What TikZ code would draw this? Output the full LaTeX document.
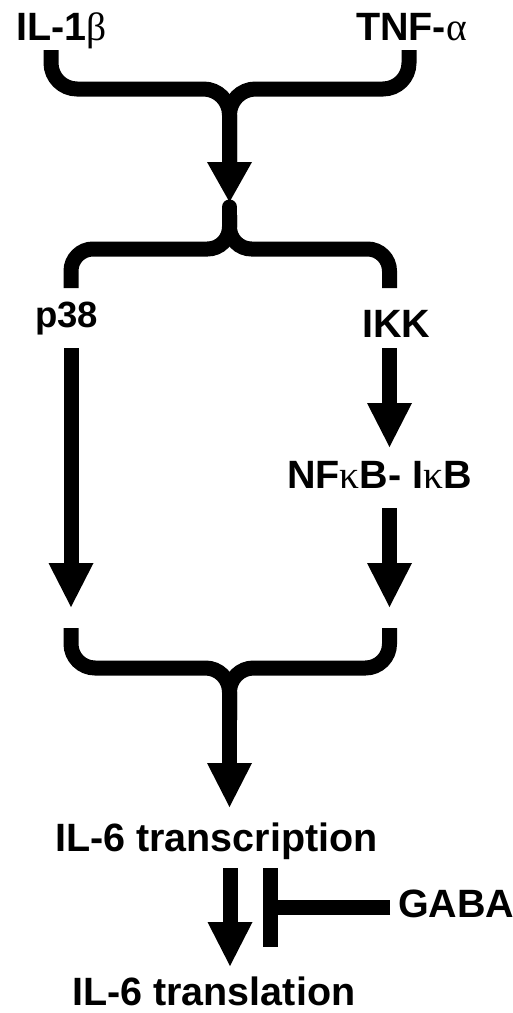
\documentclass[tikz,border=0pt]{standalone}
\usepackage{fontspec}
\setmainfont{Liberation Sans}
\newfontfamily\grk{Liberation Serif}
\usetikzlibrary{arrows.meta}
\begin{document}
\begin{tikzpicture}[x=1pt,y=-1pt,
  lbl/.style={font=\fontsize{39.5}{40}\selectfont\bfseries, inner sep=0pt, anchor=base west},
  ln/.style={line width=15pt, line cap=butt},
  bracket/.style={ln, rounded corners=26pt},
  arr/.style={line width=15pt, -{Triangle[width=45pt,length=44pt,line width=0pt]}},
  arrshort/.style={line width=15pt, -{Triangle[width=45pt,length=40pt,line width=0pt]}}]
\useasboundingbox (0,0) rectangle (513,1013);
% labels
\node[lbl] (il1b) at (16,40) {IL-1{\grk\mdseries β}};
\node[lbl, anchor=base east] (tnfa) at (467,40) {TNF-{\grk\mdseries α}};
\node[lbl, font=\fontsize{36.5}{37}\selectfont\bfseries] (p38) at (35,327) {p38};
\node[lbl] (ikk) at (362,337) {IKK};
\node[lbl] (nfkb) at (287,488) {NF{\grk\mdseries κ}B- I{\grk\mdseries κ}B};
\node[lbl] (il6tc) at (55,851) {IL-6 transcription};
\node[lbl] (il6tl) at (72,1005) {IL-6 translation};
\node[lbl] (gaba) at (398,917) {GABA};
% junction coordinates
\coordinate (j1) at (229.5,89);
\coordinate (t1) at (229.5,202);
\coordinate (j2) at (229.5,249);
\coordinate (m2l) at (71,288);
\coordinate (m2r) at (389.5,288);
\coordinate (a1) at (71,607);
\coordinate (a2) at (389.5,607);
\coordinate (b3l) at (71,628);
\coordinate (b3r) at (389.5,628);
\coordinate (j3) at (229.5,668);
\coordinate (bar) at (270,907);
% top bracket
\draw[bracket] (51,50) |- (j1) -- (229.5,170);
\draw[bracket] (409,50) |- (j1) -- (229.5,170);
\draw[arrshort] (229.5,150) -- (t1);
% middle bracket
\draw[ln, line cap=round] (229.5,207) -- (229.5,230);
\draw[bracket, rounded corners=22pt] (229.5,215) -- (j2) -| (m2l);
\draw[bracket, rounded corners=22pt] (229.5,215) -- (j2) -| (m2r);
% branches
\draw[arr] (71,348) -- (a1);
\draw[arr] (389.5,348) -- (389.5,447);
\draw[arr] (389.5,508) -- (a2);
% bottom bracket
\draw[bracket, rounded corners=24pt] (b3l) |- (j3) -- (229.5,720);
\draw[bracket, rounded corners=24pt] (b3r) |- (j3) -- (229.5,720);
\draw[arr] (229.5,700) -- (229.5,807);
% translation + inhibition
\draw[arr] (230,868) -- (230,966);
\draw[ln] (270,868) -- (270,947);
\draw[ln] (390,907) -- (bar);
\end{tikzpicture}
\end{document}
